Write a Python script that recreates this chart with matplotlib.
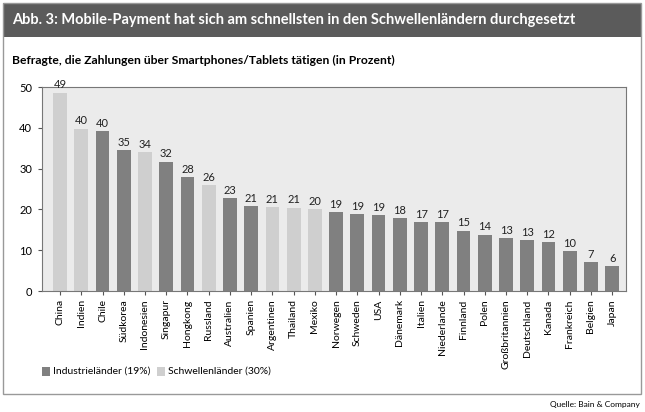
import matplotlib.pyplot as plt
from matplotlib.patches import Rectangle

plt.rcParams['font.family'] = ['Lato', 'DejaVu Sans']

# Daten
laender = ['China', 'Indien', 'Chile', 'Südkorea', 'Indonesien', 'Singapur', 'Hongkong',
           'Russland', 'Australien', 'Spanien', 'Argentinen', 'Thailand', 'Mexiko',
           'Norwegen', 'Schweden', 'USA', 'Dänemark', 'Italien', 'Niederlande', 'Finnland',
           'Polen', 'Großbritannien', 'Deutschland', 'Kanada', 'Frankreich', 'Belgien', 'Japan']
werte = [48.6, 39.8, 39.2, 34.5, 34.0, 31.7, 27.9, 25.9, 22.8, 20.8, 20.6, 20.4, 20.0,
         19.3, 18.8, 18.6, 17.8, 16.9, 16.9, 14.8, 13.8, 12.9, 12.4, 11.9, 9.7, 7.0, 6.1]
beschriftung = [49, 40, 40, 35, 34, 32, 28, 26, 23, 21, 21, 21, 20,
                19, 19, 19, 18, 17, 17, 15, 14, 13, 13, 12, 10, 7, 6]
schwelle = ['China', 'Indien', 'Indonesien', 'Russland', 'Argentinen', 'Thailand', 'Mexiko']

dunkel = '#808080'
hell = '#cfcfcf'

fig = plt.figure(figsize=(6.45, 4.12), dpi=100)
W, H = 645, 412

# Rahmen und Titelleiste
fig.patches.append(Rectangle((3 / W, 1 - 394 / H), 638 / W, 391 / H, transform=fig.transFigure,
                             facecolor='none', edgecolor='#999999', lw=1, zorder=5))
fig.patches.append(Rectangle((3 / W, 1 - 37 / H), 638 / W, 34 / H, transform=fig.transFigure,
                             facecolor='#5b5b5b', edgecolor='none'))
fig.text(12 / W, 1 - 20 / H, 'Abb. 3: Mobile-Payment hat sich am schnellsten in den Schwellenländern durchgesetzt',
         color='white', fontsize=10.5, fontweight='bold', va='center')
fig.text(12 / W, 1 - 60 / H, 'Befragte, die Zahlungen über Smartphones/Tablets tätigen (in Prozent)',
         color='black', fontsize=8.7, fontweight='bold', va='center')

ax = fig.add_axes([42 / W, 1 - 291 / H, 584 / W, 204 / H])
ax.set_facecolor('#ebebeb')
x = range(len(laender))
farben = [hell if l in schwelle else dunkel for l in laender]
ax.bar(x, werte, width=0.65, color=farben)
for i, (v, b) in enumerate(zip(werte, beschriftung)):
    ax.text(i, v + 0.6, str(b), ha='center', va='bottom', fontsize=8, color='#222222')

ax.set_xlim(-0.85, 26.65)
ax.set_ylim(0, 50)
ax.set_yticks(range(0, 51, 10))
ax.set_xticks(list(x))
ax.set_xticklabels(laender, rotation=90, fontsize=7.5)
ax.tick_params(axis='y', labelsize=8, length=3, color='#555555', pad=4)
ax.tick_params(axis='x', length=3, color='#555555', pad=3)
for s in ax.spines.values():
    s.set_color('#777777')
    s.set_linewidth(0.8)

# Legende
fig.patches.append(Rectangle((42 / W, 1 - 376 / H), 8 / W, 9 / H, transform=fig.transFigure,
                             facecolor=dunkel, edgecolor='none'))
fig.text(53 / W, 1 - 371 / H, 'Industrieländer (19%)', fontsize=7.5, va='center')
fig.patches.append(Rectangle((157 / W, 1 - 376 / H), 8 / W, 9 / H, transform=fig.transFigure,
                             facecolor=hell, edgecolor='none'))
fig.text(168 / W, 1 - 371 / H, 'Schwellenländer (30%)', fontsize=7.5, va='center')

fig.text(640 / W, 1 - 405 / H, 'Quelle: Bain & Company', fontsize=6, ha='right', va='center')

fig.savefig('out.png', dpi=100)
